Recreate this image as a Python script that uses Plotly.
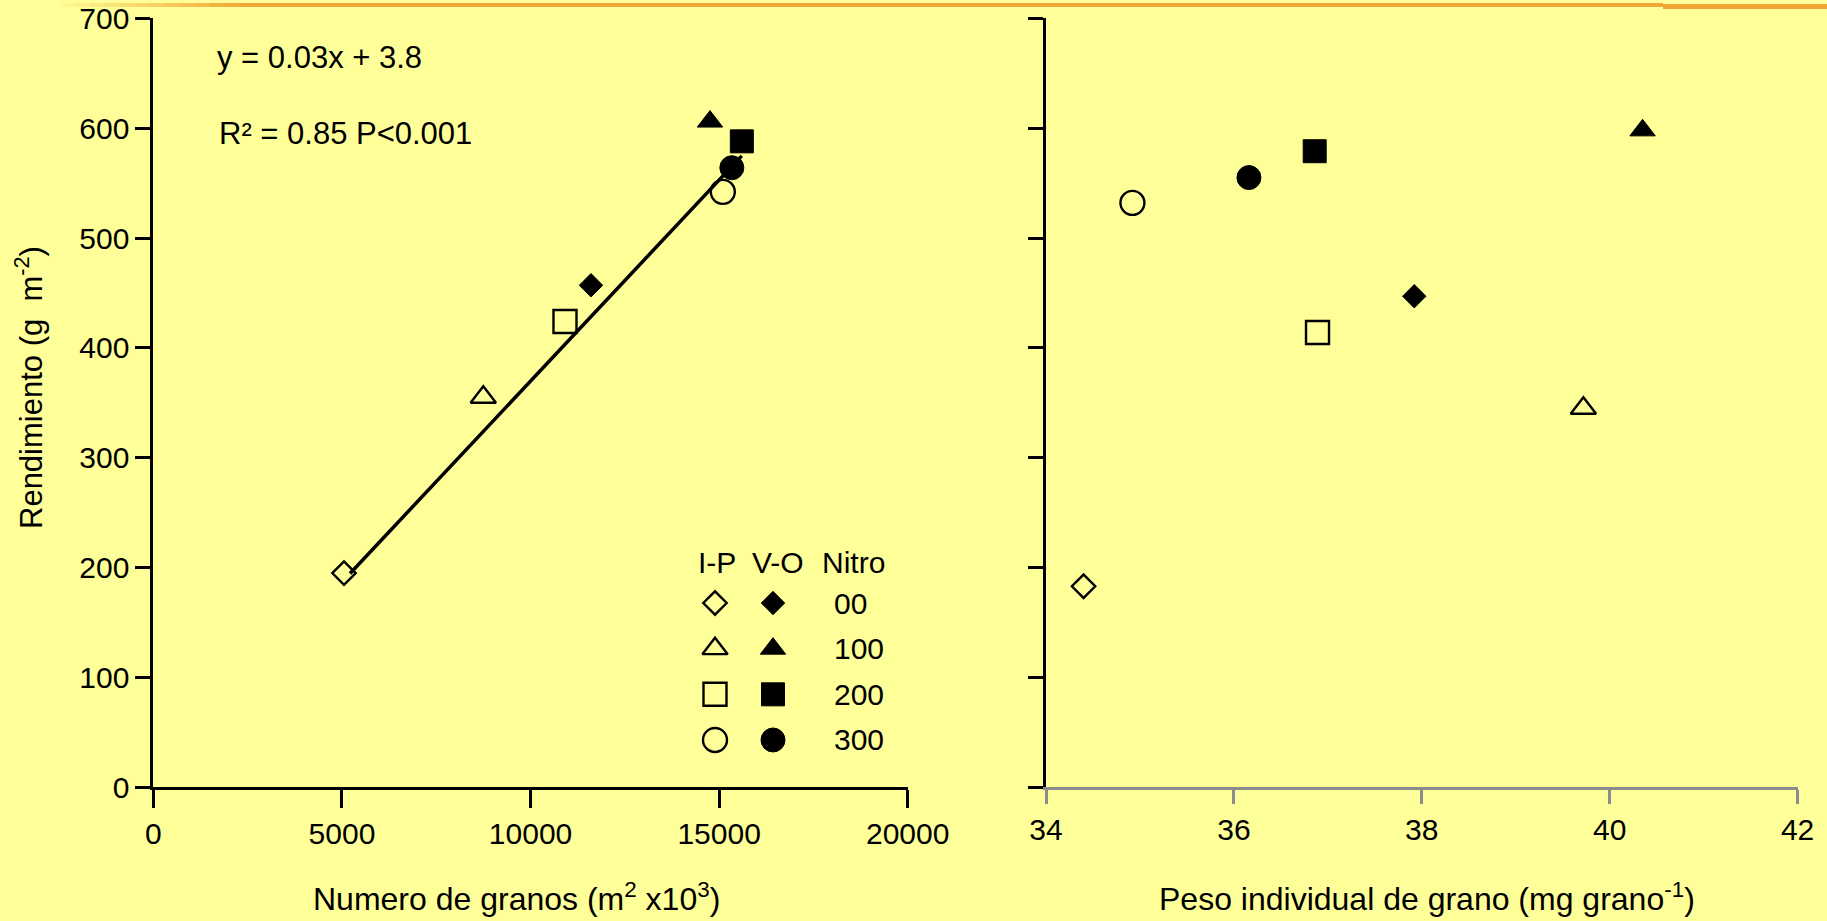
import plotly.graph_objects as go

# ---- data -------------------------------------------------------------
nitro = ["00", "100", "200", "300"]
symbols = ["diamond", "triangle-up", "square", "circle"]

# Numero de granos (m2 x10^3) vs rendimiento, siembra I-P (abierto) y V-O (lleno)
granos_ip = [5054, 8747, 10913, 15098]
rend_granos_ip = [195, 355, 424, 542]
granos_vo = [11603, 14758, 15602, 15337]
rend_granos_vo = [457, 606, 588, 564]

# Peso individual de grano vs rendimiento
peso_ip = [34.40, 39.72, 36.89, 34.92]
rend_peso_ip = [183, 345, 414, 532]
peso_vo = [37.92, 40.35, 36.86, 36.16]
rend_peso_vo = [447, 598, 579, 555]

# Recta de regresion sobre numero de granos
fit_slope = 0.0366
fit_intercept = 3.8
fit_x = [5213, 15600]

x_ticks_granos = [0, 5000, 10000, 15000, 20000]
x_ticks_peso = [34, 36, 38, 40, 42]
y_ticks = [0, 100, 200, 300, 400, 500, 600, 700]

# ---- layout helpers (pixel -> paper) ---------------------------------
W, H = 1827, 921
def fx(p):
    return p / W
def fy(p):
    return 1 - p / H

FONT = "Liberation Sans, Arial, sans-serif"
BLACK = "#000000"
GREY = "#8c8c8c"
BG = "#FFFF99"
SIZES = {"diamond": 18, "triangle-up": 22, "square": 23, "circle": 24}

def marker(open_):
    return dict(
        symbol=[s + "-open" if open_ else s for s in symbols],
        size=[SIZES[s] for s in symbols],
        color=BLACK,
        opacity=1,
        line=dict(color=BLACK, width=2.4 if open_ else 1),
    )

fig = go.Figure()

# left panel
fig.add_trace(go.Scatter(x=granos_ip, y=rend_granos_ip, mode="markers",
                         marker=marker(True), xaxis="x", yaxis="y", cliponaxis=False))
fig.add_trace(go.Scatter(x=granos_vo, y=rend_granos_vo, mode="markers",
                         marker=marker(False), xaxis="x", yaxis="y", cliponaxis=False))
fig.add_trace(go.Scatter(x=fit_x, y=[fit_slope * v + fit_intercept for v in fit_x],
                         mode="lines", line=dict(color=BLACK, width=3.5),
                         xaxis="x", yaxis="y"))

# right panel
fig.add_trace(go.Scatter(x=peso_ip, y=rend_peso_ip, mode="markers",
                         marker=marker(True), xaxis="x2", yaxis="y2", cliponaxis=False))
fig.add_trace(go.Scatter(x=peso_vo, y=rend_peso_vo, mode="markers",
                         marker=marker(False), xaxis="x2", yaxis="y2", cliponaxis=False))

# key table: column 0 = I-P, column 1 = V-O, rows = nitrogen level
rows = list(range(len(nitro)))
KEY_X_DOM = [fx(686), fx(802)]
KEY_Y_DOM = [fy(762.8), fy(580.2)]
KEY_X_RANGE = [-0.5, 1.5]
KEY_Y_RANGE = [3.5, -0.5]

def key_x(col):
    t = (col - KEY_X_RANGE[0]) / (KEY_X_RANGE[1] - KEY_X_RANGE[0])
    return KEY_X_DOM[0] + t * (KEY_X_DOM[1] - KEY_X_DOM[0])

def key_y(row):
    t = (row - KEY_Y_RANGE[0]) / (KEY_Y_RANGE[1] - KEY_Y_RANGE[0])
    return KEY_Y_DOM[0] + t * (KEY_Y_DOM[1] - KEY_Y_DOM[0])

fig.add_trace(go.Scatter(x=[0] * len(rows), y=rows, mode="markers",
                         marker=marker(True), xaxis="x3", yaxis="y3", cliponaxis=False))
fig.add_trace(go.Scatter(x=[1] * len(rows), y=rows, mode="markers",
                         marker=marker(False), xaxis="x3", yaxis="y3", cliponaxis=False))

axis_common = dict(showgrid=False, zeroline=False, showline=True, linewidth=3,
                   ticks="outside", tickwidth=3, automargin=False,
                   tickfont=dict(family=FONT, size=30, color=BLACK))
hidden_axis = dict(showgrid=False, zeroline=False, showline=False, ticks="",
                   showticklabels=False, automargin=False, fixedrange=True)

y_top, y_bot = 18.3, 787.3

fig.update_layout(
    width=W, height=H, autosize=False,
    margin=dict(l=0, r=0, t=0, b=0, pad=0, autoexpand=False),
    paper_bgcolor=BG, plot_bgcolor="rgba(0,0,0,0)",
    showlegend=False,
    font=dict(family=FONT, size=30, color=BLACK),
    xaxis=dict(domain=[fx(153.4), fx(907.7)], range=[0, 20000], tickvals=x_ticks_granos,
               ticktext=[str(v) for v in x_ticks_granos],
               anchor="y", linecolor=BLACK, tickcolor=BLACK, ticklen=18, **axis_common),
    yaxis=dict(domain=[fy(y_bot), fy(y_top)], range=[0, 700], tickvals=y_ticks,
               ticktext=[str(v) for v in y_ticks],
               anchor="x", linecolor=BLACK, tickcolor=BLACK, ticklen=15, **axis_common),
    xaxis2=dict(domain=[fx(1046), fx(1797.6)], range=[34, 42], tickvals=x_ticks_peso,
                ticktext=[str(v) for v in x_ticks_peso],
                anchor="y2", linecolor=GREY, tickcolor=GREY, ticklen=14, **axis_common),
    yaxis2=dict(domain=[fy(y_bot), fy(y_top)], range=[0, 700], tickvals=y_ticks,
                anchor="x2", linecolor=BLACK, tickcolor=BLACK, ticklen=15,
                showticklabels=False,
                **{k: v for k, v in axis_common.items() if k != "tickfont"}),
    xaxis3=dict(domain=KEY_X_DOM, range=KEY_X_RANGE, anchor="y3", **hidden_axis),
    yaxis3=dict(domain=KEY_Y_DOM, range=KEY_Y_RANGE, anchor="x3", **hidden_axis),
)

annotations = [
    dict(text="y = 0.03x + 3.8", x=fx(215), y=fy(57), xanchor="left", yanchor="middle",
         font=dict(size=31)),
    dict(text="R² = 0.85 P&lt;0.001", x=fx(217), y=fy(133), xanchor="left", yanchor="middle",
         font=dict(size=31)),
    dict(text="Numero de granos (m<sup>2</sup> x10<sup>3</sup>)", x=fx(516), y=fy(897),
         xanchor="center", yanchor="middle", font=dict(size=32)),
    dict(text="Peso individual de grano (mg grano<sup>-1</sup>)", x=fx(1427), y=fy(897),
         xanchor="center", yanchor="middle", font=dict(size=32)),
    dict(text="Rendimiento (g\u00a0\u00a0m<sup>-2</sup>)", x=fx(29), y=fy(388),
         textangle=-90, xanchor="center", yanchor="middle", font=dict(size=31)),
]

# key headers and nitrogen labels
key_headers = [("I-P", 0.04), ("V-O", 1.09), ("Nitro", 2.38)]
for label, col in key_headers:
    annotations.append(dict(text=label, x=key_x(col), y=key_y(-0.88),
                            xanchor="center", yanchor="middle", font=dict(size=30)))
for r, lab in zip(rows, nitro):
    annotations.append(dict(text=lab, x=key_x(2.02), y=key_y(r),
                            xanchor="left", yanchor="middle", font=dict(size=30)))

for a in annotations:
    a.update(xref="paper", yref="paper", showarrow=False)
fig.update_layout(annotations=annotations)

# orange rule along the top edge, fading in from the left
ORANGE = "#F0A632"
shapes = []
steps = 12
x_start, x_full = 60, 240
for i in range(steps):
    a = x_start + (x_full - x_start) * i / steps
    b = x_start + (x_full - x_start) * (i + 1) / steps
    shapes.append(dict(type="rect", xref="paper", yref="paper",
                       x0=fx(a), x1=fx(b), y0=fy(7), y1=fy(3),
                       fillcolor=ORANGE, opacity=(i + 1) / (steps + 1), line=dict(width=0)))
shapes.append(dict(type="rect", xref="paper", yref="paper", x0=fx(x_full), x1=fx(1663),
                   y0=fy(7), y1=fy(3), fillcolor=ORANGE, line=dict(width=0)))
shapes.append(dict(type="rect", xref="paper", yref="paper", x0=fx(1663), x1=1,
                   y0=fy(9), y1=fy(4), fillcolor=ORANGE, line=dict(width=0)))
fig.update_layout(shapes=shapes)

fig.write_html("out.html")
